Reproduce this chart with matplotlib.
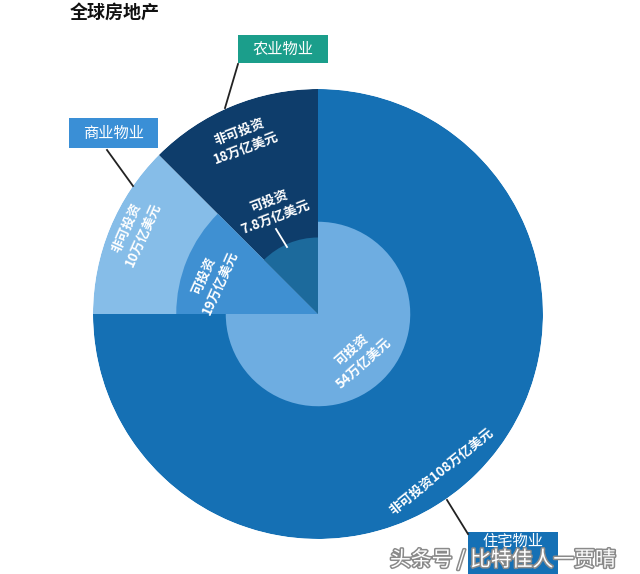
import numpy as np
import matplotlib
matplotlib.use("Agg")
import matplotlib.pyplot as plt
from matplotlib.patches import Rectangle
import matplotlib.patheffects as pe

plt.rcParams['font.family'] = ['Noto Sans CJK SC', 'DejaVu Sans']

# ---- data ----
categories = ['住宅物业', '商业物业', '农业物业']
investable = [54, 19, 7.8]          # 万亿美元
non_investable = [108, 10, 18]      # 万亿美元
sector_deg = [270, 45, 45]          # angular share
inner_frac = [0.41, 0.63, 0.34]     # radius of the investable part (fraction of outer)
title = '全球房地产'
watermark = '头条号 / 比特佳人一贾晴'

outer_colors = ['#1570B4', '#86BDE8', '#0E3D6B']
inner_colors = ['#6EADE1', '#3F90D2', '#1C6A9C']
box_colors = ['#1570B5', '#3A8FD6', '#1B9E8B']

W, H = 640, 574
fig = plt.figure(figsize=(W / 100, H / 100), dpi=100)

cx, cy, R = 318, 314, 225
ax = fig.add_axes([(cx - R) / W, (H - cy - R) / H, 2 * R / W, 2 * R / H],
                  projection='polar')
ax.set_theta_zero_location('N')
ax.set_theta_direction(-1)

starts = np.concatenate([[0], np.cumsum(sector_deg)[:-1]])
ax.bar(np.deg2rad(starts), [1.0] * 3, width=np.deg2rad(sector_deg),
       align='edge', color=outer_colors, linewidth=0)
ax.bar(np.deg2rad(starts), inner_frac, width=np.deg2rad(sector_deg),
       align='edge', color=inner_colors, linewidth=0)
ax.set_ylim(0, 1)
ax.set_axis_off()

# ---- overlay in pixel coordinates ----
ov = fig.add_axes([0, 0, 1, 1])
ov.set_xlim(0, W)
ov.set_ylim(H, 0)
ov.set_axis_off()

ov.text(70, 12, title, fontsize=13, fontweight='bold', ha='left', va='center',
        color='#111111')

lab_kw = dict(color='white', fontsize=9.5, fontweight='bold', ha='center',
              va='center', linespacing=1.35, rotation_mode='anchor')

def fmt(v):
    return ('%g' % v)

# agricultural
ov.text(243, 140, '非可投资\n%s万亿美元' % fmt(non_investable[2]), rotation=21, **lab_kw)
ov.text(272, 209, '可投资\n%s万亿美元' % fmt(investable[2]), rotation=21, **lab_kw)
ov.plot([276, 287], [229, 247], color='white', lw=1.3)
# commercial
ov.text(135, 231, '非可投资\n%s万亿美元' % fmt(non_investable[1]), rotation=66, **lab_kw)
ov.text(212, 279, '可投资\n%s万亿美元' % fmt(investable[1]), rotation=66, **lab_kw)
# residential
ov.text(358, 357, '可投资\n%s万亿美元' % fmt(investable[0]), rotation=42, **lab_kw)
ov.text(441, 471, '非可投资%s万亿美元' % fmt(non_investable[0]), rotation=39, **lab_kw)

# category boxes with leader lines
boxes = [(468, 532, 90, 46), (69, 118, 89, 30), (238, 35, 90, 28)]
leaders = [((447, 500), (468, 534)), ((107, 150), (133, 186)), ((238, 64), (225, 108))]
for name, (x, y, w, h), col, (p0, p1) in zip(categories, boxes, box_colors, leaders):
    ov.plot([p0[0], p1[0]], [p0[1], p1[1]], color='#222222', lw=1.3)
    ov.add_patch(Rectangle((x, y), w, h, facecolor=col, edgecolor='none'))
    ty = y + 9 if h > 40 else y + h / 2
    ov.text(x + w / 2, ty, name, color='white', fontsize=11, fontweight='medium',
            ha='center', va='center')

ov.text(390, 560, watermark, fontsize=15, color='white', ha='left', va='center',
        path_effects=[pe.withStroke(linewidth=2.2, foreground='#8a8a8a')])

fig.savefig('out.png', dpi=100)
